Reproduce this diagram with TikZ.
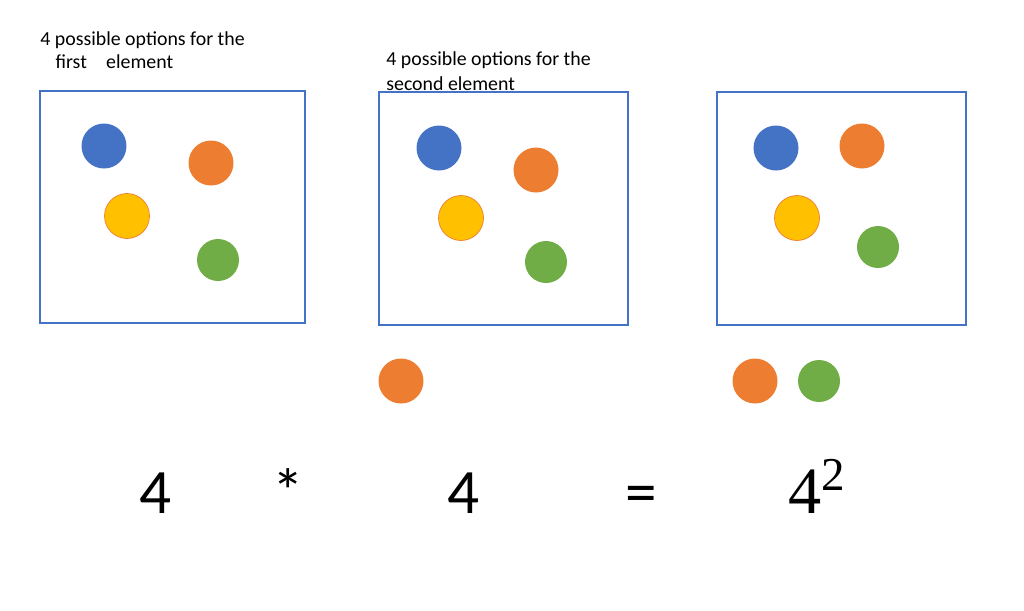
\documentclass[tikz,border=0pt]{standalone}
\usepackage{fontspec}
\setmainfont{Carlito}
\newfontfamily\powerfont{Liberation Serif}
\definecolor{offblue}{HTML}{4472C4}
\definecolor{offorange}{HTML}{ED7D31}
\definecolor{offyellow}{HTML}{FFC000}
\definecolor{offgreen}{HTML}{70AD47}
\tikzset{
  ball/.style={circle,inner sep=0pt,minimum size=0.9cm},
  frame/.style={draw=offblue,line width=0.8pt},
  caption/.style={anchor=base west,inner sep=0pt,align=left,font=\fontsize{11.3}{13.3}\selectfont},
  big/.style={anchor=base,inner sep=0pt,font=\fontsize{36}{40}\selectfont}
}
\begin{document}
\begin{tikzpicture}[x=0.02cm,y=-0.02cm]
\useasboundingbox (0,0) rectangle (1024,610);
% captions
\draw (40,68) node[caption] (capA) {4 possible options for the\\[-0.5pt]\hspace*{8.7pt}first\hspace{11pt}element};
\draw (386,90) node[caption] (capB) {4 possible options for the\\[0.5pt]second element};
% boxes
\draw[frame] (40,91) rectangle (305,323);
\draw[frame] (379,92) rectangle (628,325);
\draw[frame] (717,92) rectangle (966,325);
% first box
\draw (104,146) node[ball,fill=offblue] (blueA) {};
\draw (211,163) node[ball,fill=offorange] (orangeA) {};
\draw (127,216) node[ball,fill=offyellow,draw=offorange,line width=0.4pt] (yellowA) {};
\draw (218,260) node[ball,fill=offgreen,minimum size=0.84cm] (greenA) {};
% second box
\draw (439,148) node[ball,fill=offblue] (blueB) {};
\draw (536,170) node[ball,fill=offorange] (orangeB) {};
\draw (461,218) node[ball,fill=offyellow,draw=offorange,line width=0.4pt] (yellowB) {};
\draw (546,262) node[ball,fill=offgreen,minimum size=0.84cm] (greenB) {};
% third box
\draw (776,148) node[ball,fill=offblue] (blueC) {};
\draw (862,146) node[ball,fill=offorange] (orangeC) {};
\draw (797,218) node[ball,fill=offyellow,draw=offorange,line width=0.4pt] (yellowC) {};
\draw (878,247) node[ball,fill=offgreen,minimum size=0.84cm] (greenC) {};
% picked
\draw (401,381) node[ball,fill=offorange] (pickB) {};
\draw (755,381) node[ball,fill=offorange] (pickC) {};
\draw (819,381) node[ball,fill=offgreen,minimum size=0.84cm] (pickD) {};
% count
\draw (156,513) node[big] (countA) {4};
\draw (288,513) node[big] (times) {*};
\draw (464,513) node[big] (countB) {4};
\draw (641,513) node[big] (equals) {=};
\draw (788,513) node[big,anchor=base west,font=\fontsize{37.7}{40}\powerfont] (power) {4\raisebox{13pt}{\fontsize{26.8}{28}\selectfont 2}};
\end{tikzpicture}
\end{document}
